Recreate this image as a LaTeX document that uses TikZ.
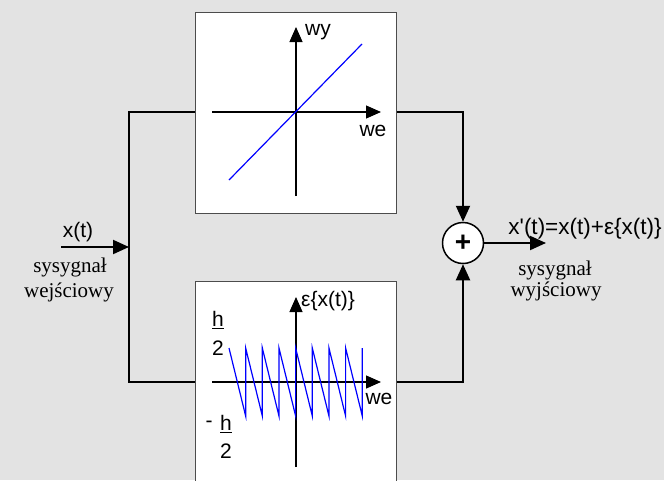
\documentclass[tikz,border=0pt]{standalone}
\usepackage{fontspec}
\setmainfont{Liberation Serif}
\newfontfamily\arial{Liberation Sans}
\usetikzlibrary{arrows.meta}
\begin{document}
\begin{tikzpicture}[x=1pt,y=-1pt,
  conn/.style={line width=2pt},
  connarrow/.style={line width=2pt,-{Triangle[length=16pt,width=14pt]}},
  axis/.style={line width=1.2pt,-{Triangle[length=15pt,width=13pt]}},
  block/.style={draw=black!70,line width=1pt,fill=white},
  sans/.style={font=\arial\fontsize{21}{23}\selectfont,inner sep=0pt},
  serif/.style={font=\fontsize{21}{23}\selectfont,inner sep=0pt},
  sig/.style={blue,line width=1.2pt}]
\fill[black!11] (0,0) rectangle (664,480);
\useasboundingbox (0,0) rectangle (664,480);
% blocks
\node[block,minimum width=201pt,minimum height=201pt,anchor=north west,inner sep=0pt] (top) at (195,12) {};
\node[block,minimum width=201pt,minimum height=210pt,anchor=north west,inner sep=0pt] (bot) at (195,281) {};
% top graph
\coordinate (t1) at (212,112); \coordinate (t2) at (381,112);
\coordinate (t3) at (296,196); \coordinate (t4) at (296,27);
\draw[axis] (t1) -- (t2);
\draw[axis] (t3) -- (t4);
\draw[sig] (229,180) -- (362,44);
\node[sans,anchor=west] (wy) at (305,32) {wy};
\node[sans] (we1) at (373,131) {we};
% bottom graph
\coordinate (b1) at (212,382); \coordinate (b2) at (381,382);
\coordinate (b3) at (296,467); \coordinate (b4) at (296,297);
\draw[axis] (b1) -- (b2);
\draw[axis] (b3) -- (b4);
\draw[sig] (229,348)
  \foreach \i in {1,...,8} { -- ({229+\i*16.66},416) -- ({229+\i*16.66},348) };
\node[sans,anchor=west] (eps) at (301,301) {ε\{x(t)\}};
\node[sans] (we2) at (379,399) {we};
\node[sans] (h1) at (218,320) {\underline{h}};
\node[sans] (d1) at (218,348) {2};
\node[sans] (m2) at (209,424) {-};
\node[sans] (h2) at (226,424) {\underline{h}};
\node[sans] (d2) at (226,451) {2};
% sum
\node[draw,circle,fill=white,line width=1.5pt,minimum size=41pt,inner sep=0pt,font=\arial\bfseries\fontsize{28}{28}\selectfont] (sum) at (463,243) {+};
% input
\coordinate (in) at (61,247);
\coordinate (split) at (129,247);
\draw[connarrow] (in) -- (split);
\draw[conn] (top.west |- t1) -- (129,112) -- (129,382) -- (bot.west |- b1);
\draw[conn] (top.east |- t1) -- (463,112);
\draw[connarrow] (463,111) -- (sum.north);
\draw[conn] (bot.east |- b1) -- (463,382);
\draw[connarrow] (463,383) -- (sum.south);
\coordinate (out) at (546,243);
\draw[connarrow] (sum.east) -- (out);
% labels
\node[sans] (xt) at (78,232) {x(t)};
\node[serif] (s1) at (70,267) {sysygnał};
\node[serif] (s2) at (69,292) {wejściowy};
\node[sans,font=\arial\fontsize{22.5}{24}\selectfont] (xo) at (585,229) {x'(t)=x(t)+ε\{x(t)\}};
\node[serif] (s3) at (555,270) {sysygnał};
\node[serif] (s4) at (556,291) {wyjściowy};
\end{tikzpicture}
\end{document}
